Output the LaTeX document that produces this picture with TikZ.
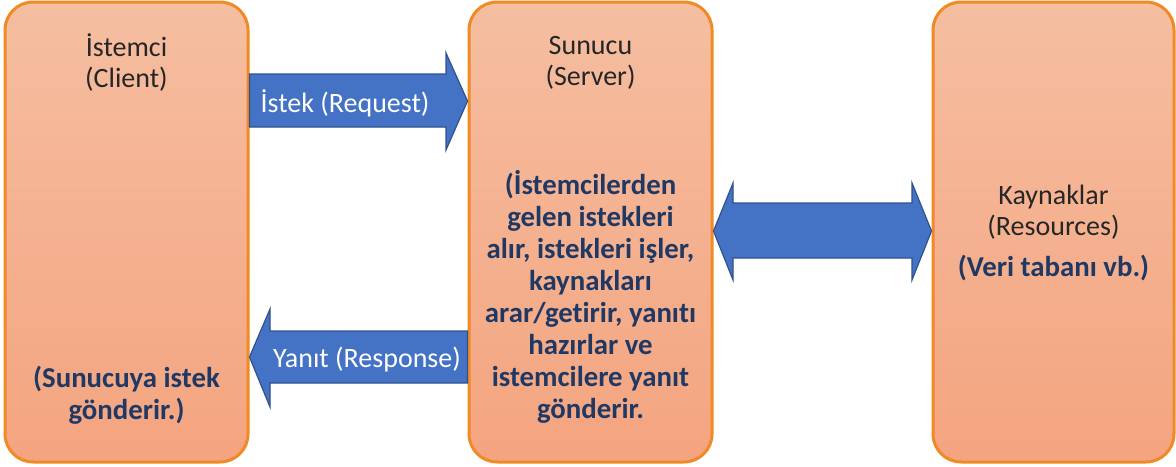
\documentclass[tikz,border=0pt]{standalone}
\usepackage{fontspec}
\setmainfont{Carlito}[Ligatures=NoCommon]
\usetikzlibrary{calc}
\definecolor{BoxTop}{HTML}{F5BEA1}
\definecolor{BoxBottom}{HTML}{F4A47F}
\definecolor{BoxEdge}{HTML}{F08A24}
\definecolor{ArrowFill}{HTML}{4472C4}
\definecolor{ArrowEdge}{HTML}{2F528F}
\definecolor{NoteBlue}{HTML}{1F3864}
\definecolor{Ink}{HTML}{262626}

\begin{document}
\begin{tikzpicture}[x=0.5pt, y=-0.5pt,
    box/.style={
        draw=BoxEdge, line width=1.5pt, rounded corners=14pt,
        top color=BoxTop, bottom color=BoxBottom,
        minimum height=230pt, inner sep=0pt
    },
    title/.style={text=Ink, font=\fontsize{14}{15.5}\selectfont, align=center},
    note/.style={text=NoteBlue, font=\fontsize{14.4}{16}\selectfont\bfseries, align=center},
    blockarr/.style={fill=ArrowFill, draw=ArrowEdge, line width=0.6pt, line join=miter},
    arrlbl/.style={text=white, font=\fontsize{14}{15.5}\selectfont, inner sep=0pt}
]
\useasboundingbox (0,0) rectangle (1176,466);

% =============================================
% The three columns
% =============================================
\node[box, minimum width=121.5pt] (client) at (126.5,232) {};
\node[box, minimum width=121.5pt] (server) at (590.5,232) {};
\node[box, minimum width=120.5pt] (resources) at (1053.5,232) {};

% Client texts
\node[title] (clientname) at (126.5,63) {İstemci\\(Client)};
\node[note] (clientnote) at (126.5,395) {(Sunucuya istek\\gönderir.)};

% Server texts
\node[title] (servername) at (590.5,63) {Sunucu\\(Server)};
\node[note] (servernote) at (590.5,297) {(İstemcilerden\\gelen istekleri\\alır, istekleri işler,\\kaynakları\\arar/getirir, yanıtı\\hazırlar ve\\istemcilere yanıt\\gönderir.};

% Resources texts
\node[title] (resname) at (1053.5,212) {Kaynaklar\\(Resources)};
\node[note] (resnote) at (1053.5,268) {(Veri tabanı vb.)};

% =============================================
% Request: client -> server
% =============================================
\draw[blockarr] (client.east |- 0,74) -- (446,74) -- (446,53)
    -- (server.west |- 0,101) -- (446,150) -- (446,127)
    -- (client.east |- 0,127) -- cycle;
\node[arrlbl] (reqlbl) at (345,103) {İstek (Request)};

% =============================================
% Response: server -> client
% =============================================
\draw[blockarr] (server.west |- 0,331) -- (270,331) -- (270,309)
    -- (client.east |- 0,357) -- (270,407) -- (270,383)
    -- (server.west |- 0,383) -- cycle;
\node[arrlbl] (resplbl) at (367,360) {Yanıt (Response)};

% =============================================
% Server <-> resources
% =============================================
\draw[blockarr] (server.east |- 0,231) -- (733,183) -- (733,203)
    -- (912,203) -- (912,183) -- (resources.west |- 0,231)
    -- (912,280) -- (912,258) -- (733,258) -- (733,280) -- cycle;

\end{tikzpicture}
\end{document}
